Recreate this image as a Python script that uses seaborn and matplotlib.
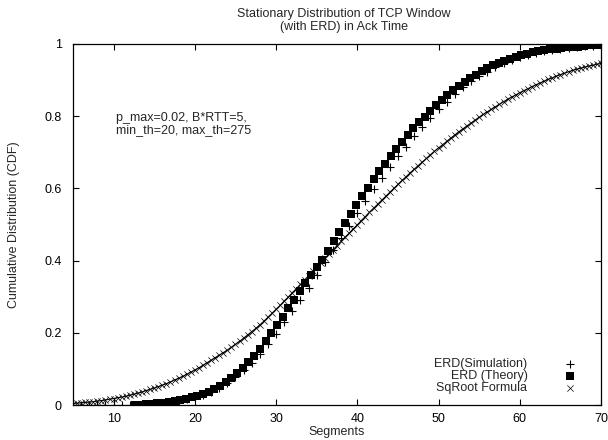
import matplotlib
matplotlib.use("Agg")
import matplotlib.pyplot as plt
import seaborn as sns

# ---------------- data ----------------
sim_x = [5, 6, 7, 8, 9, 10, 11, 12, 13, 14, 15, 16, 17, 18, 19, 20, 21, 22, 23, 24,
         25, 26, 27, 28, 29, 30, 31, 32, 33, 34, 35, 36, 37, 38, 39, 40, 41, 42, 43, 44,
         45, 46, 47, 48, 49, 50, 51, 52, 53, 54, 55, 56, 57, 58, 59, 60, 61, 62, 63, 64,
         65, 66, 67, 68, 69, 70]
sim_y = [0.000, 0.000, 0.000, 0.000, 0.000, 0.000, 0.000, 0.000, 0.001, 0.002,
         0.003, 0.005, 0.008, 0.011, 0.016, 0.021, 0.028, 0.037, 0.048, 0.061,
         0.077, 0.096, 0.117, 0.141, 0.168, 0.198, 0.229, 0.261, 0.292, 0.325,
         0.360, 0.397, 0.430, 0.463, 0.497, 0.532, 0.566, 0.597, 0.629, 0.660,
         0.690, 0.716, 0.745, 0.771, 0.795, 0.819, 0.840, 0.861, 0.880, 0.897,
         0.911, 0.923, 0.936, 0.946, 0.955, 0.963, 0.970, 0.976, 0.980, 0.984,
         0.987, 0.990, 0.992, 0.994, 0.995, 0.996]

theory_x = [12.6, 13.3, 14.0, 14.7, 15.4, 16.1, 16.8, 17.5, 18.2, 18.9, 19.6, 20.3,
            21.0, 21.7, 22.4, 23.1, 23.8, 24.5, 25.2, 25.9, 26.6, 27.3, 28.0, 28.7,
            29.4, 30.1, 30.8, 31.5, 32.2, 32.9, 33.6, 34.3, 35.0, 35.7, 36.4, 37.1,
            37.8, 38.5, 39.2, 39.9, 40.6, 41.3, 42.0, 42.7, 43.4, 44.1, 44.8, 45.5,
            46.2, 46.9, 47.6, 48.3, 49.0, 49.7, 50.4, 51.1, 51.8, 52.5, 53.2, 53.9,
            54.6, 55.3, 56.0, 56.7, 57.4, 58.1, 58.8, 59.5, 60.2, 60.9, 61.6, 62.3,
            63.0, 63.7, 64.4, 65.1, 65.8, 66.5, 67.2, 67.9, 68.6, 69.3, 70.0]
theory_y = [0.000, 0.001, 0.002, 0.003, 0.005, 0.006, 0.008, 0.011, 0.014, 0.017,
            0.022, 0.026, 0.031, 0.037, 0.045, 0.053, 0.064, 0.076, 0.089, 0.103,
            0.119, 0.136, 0.155, 0.177, 0.199, 0.221, 0.245, 0.268, 0.292, 0.315,
            0.337, 0.359, 0.381, 0.402, 0.426, 0.453, 0.478, 0.504, 0.530, 0.555,
            0.579, 0.602, 0.625, 0.647, 0.668, 0.689, 0.710, 0.729, 0.747, 0.766,
            0.783, 0.799, 0.815, 0.831, 0.846, 0.860, 0.873, 0.885, 0.896, 0.906,
            0.915, 0.924, 0.933, 0.941, 0.948, 0.954, 0.959, 0.964, 0.969, 0.973,
            0.977, 0.980, 0.983, 0.985, 0.987, 0.989, 0.991, 0.992, 0.993, 0.995,
            0.996, 0.996, 0.997]

sqrt_x = [5.0, 5.5, 6.0, 6.5, 7.0, 7.5, 8.0, 8.5, 9.0, 9.5, 10.0, 10.5, 11.0, 11.5,
          12.0, 12.5, 13.0, 13.5, 14.0, 14.5, 15.0, 15.5, 16.0, 16.5, 17.0, 17.5,
          18.0, 18.5, 19.0, 19.5, 20.0, 20.5, 21.0, 21.5, 22.0, 22.5, 23.0, 23.5,
          24.0, 24.5, 25.0, 25.5, 26.0, 26.5, 27.0, 27.5, 28.0, 28.5, 29.0, 29.5,
          30.0, 30.5, 31.0, 31.5, 32.0, 32.5, 33.0, 33.5, 34.0, 34.5, 35.0, 35.5,
          36.0, 36.5, 37.0, 37.5, 38.0, 38.5, 39.0, 39.5, 40.0, 40.5, 41.0, 41.5,
          42.0, 42.5, 43.0, 43.5, 44.0, 44.5, 45.0, 45.5, 46.0, 46.5, 47.0, 47.5,
          48.0, 48.5, 49.0, 49.5, 50.0, 50.5, 51.0, 51.5, 52.0, 52.5, 53.0, 53.5,
          54.0, 54.5, 55.0, 55.5, 56.0, 56.5, 57.0, 57.5, 58.0, 58.5, 59.0, 59.5,
          60.0, 60.5, 61.0, 61.5, 62.0, 62.5, 63.0, 63.5, 64.0, 64.5, 65.0, 65.5,
          66.0, 66.5, 67.0, 67.5, 68.0, 68.5, 69.0, 69.5, 70.0]
sqrt_y = [0.004, 0.005, 0.006, 0.007, 0.008, 0.009, 0.011, 0.012, 0.014, 0.016,
          0.018, 0.020, 0.022, 0.024, 0.027, 0.030, 0.033, 0.036, 0.040, 0.043,
          0.047, 0.051, 0.055, 0.059, 0.064, 0.069, 0.074, 0.079, 0.085, 0.091,
          0.097, 0.103, 0.110, 0.117, 0.124, 0.131, 0.138, 0.145, 0.152, 0.160,
          0.168, 0.176, 0.185, 0.194, 0.203, 0.212, 0.222, 0.232, 0.243, 0.254,
          0.265, 0.276, 0.288, 0.299, 0.311, 0.322, 0.334, 0.346, 0.358, 0.370,
          0.382, 0.394, 0.406, 0.418, 0.430, 0.441, 0.453, 0.465, 0.476, 0.488,
          0.499, 0.511, 0.522, 0.534, 0.545, 0.556, 0.567, 0.578, 0.589, 0.600,
          0.611, 0.622, 0.632, 0.643, 0.653, 0.663, 0.673, 0.683, 0.693, 0.703,
          0.712, 0.721, 0.730, 0.739, 0.748, 0.757, 0.765, 0.773, 0.781, 0.789,
          0.797, 0.805, 0.812, 0.819, 0.826, 0.833, 0.840, 0.847, 0.853, 0.859,
          0.865, 0.871, 0.876, 0.882, 0.887, 0.892, 0.897, 0.902, 0.906, 0.911,
          0.915, 0.919, 0.923, 0.927, 0.930, 0.933, 0.936, 0.939, 0.941, 0.944,
          0.946]

series_labels = ["ERD(Simulation)", "ERD (Theory)", "SqRoot Formula"]
x_ticks = [10, 20, 30, 40, 50, 60, 70]
y_ticks = [0, 0.2, 0.4, 0.6, 0.8, 1]
y_ticklabels = ["0", "0.2", "0.4", "0.6", "0.8", "1"]
title_text = "Stationary Distribution of TCP Window\n(with ERD) in Ack Time"
note_text = "p_max=0.02, B*RTT=5,\nmin_th=20, max_th=275"

FS = 9

# ---------------- style ----------------
sns.set_style("white")
plt.rcParams["font.family"] = ["Liberation Sans", "DejaVu Sans"]
plt.rcParams["font.size"] = FS

fig = plt.figure(figsize=(6.08, 4.40), dpi=100)
ax = fig.add_axes([73 / 608, 35 / 440, 528 / 608, 361 / 440])

sns.scatterplot(x=sim_x, y=sim_y, ax=ax, marker="+", s=30, color="black",
                linewidth=0.8, label=series_labels[0], zorder=3)
sns.scatterplot(x=theory_x, y=theory_y, ax=ax, marker="s", s=28, color="black",
                edgecolor="black", linewidth=0, label=series_labels[1], zorder=4)
sns.lineplot(x=sqrt_x, y=sqrt_y, ax=ax, color="black", linewidth=0.8,
             legend=False, zorder=5)
sns.scatterplot(x=sqrt_x, y=sqrt_y, ax=ax, marker="x", s=20, color="black",
                linewidth=0.5, label=series_labels[2], zorder=5)

ax.set_xlim(5, 70)
ax.set_ylim(0, 1)
ax.set_xticks(x_ticks)
ax.set_yticks(y_ticks)
ax.set_yticklabels(y_ticklabels)

for sp in ax.spines.values():
    sp.set_visible(True)
    sp.set_color("black")
    sp.set_linewidth(0.9)

ax.tick_params(axis="both", which="major", direction="in", length=4.5,
               width=0.8, color="black", labelsize=FS, labelcolor="black",
               top=True, right=True, bottom=True, left=True)
ax.tick_params(axis="x", pad=6)
ax.tick_params(axis="y", pad=8)

ax.set_xlabel("Segments", fontsize=FS, labelpad=0.5)
ax.set_ylabel("Cumulative Distribution (CDF)", fontsize=FS)
ax.yaxis.set_label_coords(-0.100, 0.5)

fig.text(344 / 608, 1 - 8 / 440, title_text, ha="center", va="top",
         fontsize=FS, linespacing=1.1)

ax.text(116 / 608, 1 - 112 / 440, note_text, transform=fig.transFigure,
        ha="left", va="top", fontsize=FS, linespacing=1.05)

leg = ax.legend(loc="lower right", frameon=False, markerfirst=False,
                fontsize=FS, handletextpad=2.8, labelspacing=0.02,
                borderaxespad=0.3, handlelength=1.2,
                bbox_to_anchor=(0.972, 0.005))
for col in leg._legend_handle_box.get_children():
    col.align = "right"

fig.savefig("out.png", dpi=100)
